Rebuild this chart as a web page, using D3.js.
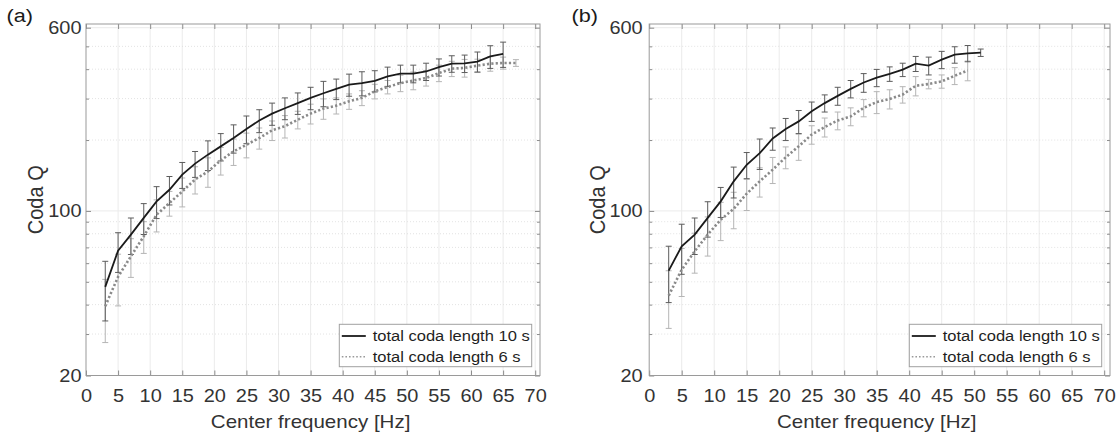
<!DOCTYPE html>
<html><head><meta charset="utf-8">
<script src="https://cdn.jsdelivr.net/npm/d3@7"></script>
<style>
body{margin:0;background:#fff;}
svg{display:block;font-family:"Liberation Sans",Arial,Helvetica,sans-serif;}
</style>
</head><body>
<svg id="chart" width="1119" height="436"></svg>
<script>
// ---------------- data ----------------
const xTickValues = [0,5,10,15,20,25,30,35,40,45,50,55,60,65,70];
const yTickValues = [20,100,600];
const yMinorValues = [30,40,50,60,70,80,90,200,300,400,500];
const seriesNames = ["total coda length 10 s","total coda length 6 s"];

// panel (a)
const freqA10 = [3,5,7,9,11,13,15,17,19,21,23,25,27,29,31,33,35,37,39,41,43,45,47,49,51,53,55,57,59,61,63,65];
const qA10    = [47.6,67.8,79.3,93.4,109.8,123,142.6,158.8,173.4,188,204,223,242,259,273,287,302,316,330,344,349,357,373,383,383,391,408,422,423,431,453,464];
const errA10  = [13.5,13,14,14,17,17,18,20,25,25,28,30,27,28,29,30,33,39,33,37,41,37,35,33,33,33,34,34,36,42,50,57];
const freqA6  = [3,5,7,9,11,13,15,17,19,21,23,25,27,29,31,33,35,37,39,41,43,45,47,49,51,53,55,57,59,61,63,65,67];
const qA6     = [39.4,52.5,64.2,78,96.4,108,121,136,147,164,179,191,204,220,229,244,259,272,280,292,302,322,336,349,358,367,385,402,405,414,422,425,425];
const errA6   = [11.8,13,12,12,15,13,17,18,21,22,23,23,21,21,25,21,25,27,22,22,22,23,22,28,31,28,31,30,35,27,30,25,14];

// panel (b)
const freqB10 = [3,5,7,9,11,13,15,17,19,21,23,25,27,29,31,33,35,37,39,41,43,45,47,49,51];
const qB10    = [55.8,70.8,79.3,93.4,109.8,133.5,157,176,203,223,240,265,287,308,330,351,368,382,398,422,414,439,461,467,470];
const errB10  = [15,17,14,16,16,20,20,26,22,24,27,25,24,27,28,32,31,27,26,31,36,37,37,37,17];
const freqB6  = [3,5,7,9,11,13,15,17,19,21,23,25,27,29,31,33,35,37,39,41,43,45,47,49];
const qB6     = [43.7,56.3,67.4,79.3,91.8,102,118.4,133.5,149.7,169,188,211,227,242,252,274,290,299,312,340,346,355,375,395];
const errB6   = [12,13,13,15,17,18,18,19,19,18,24,19,21,21,22,23,31,28,25,32,16,23,31,38];

// ---------------- drawing ----------------
const SX = 1.14;            // horizontal text stretch of the original figure
const TXT = "#333333";
const svg = d3.select("#chart");

function zip(f, q, e){ return f.map((v,i)=>({f:v,q:q[i],e:e[i]})); }

function panel(cfg){
  const g = svg.append("g");
  const x = d3.scaleLinear().domain([0,70]).range([cfg.l, cfg.x70]);
  const y = d3.scaleLog().domain([20,600]).range([cfg.b, cfg.y600]);
  const T = cfg.t, B = cfg.b, L = cfg.l, R = cfg.r;

  // grid
  const grid = g.append("g");
  grid.selectAll(".gx").data(xTickValues.slice(1)).join("line")
    .attr("x1",d=>x(d)).attr("x2",d=>x(d)).attr("y1",T).attr("y2",B)
    .attr("stroke","#ebebeb").attr("stroke-width",1);
  grid.selectAll(".gym").data(yMinorValues).join("line")
    .attr("x1",L).attr("x2",R).attr("y1",d=>y(d)).attr("y2",d=>y(d))
    .attr("stroke","#dcdcdc").attr("stroke-width",0.8).attr("stroke-dasharray","1,2");
  grid.selectAll(".gyM").data(yTickValues.slice(1)).join("line")
    .attr("x1",L).attr("x2",R).attr("y1",d=>y(d)).attr("y2",d=>y(d))
    .attr("stroke","#ebebeb").attr("stroke-width",1);

  // error bars
  function errbars(data, color){
    const eg = g.append("g").attr("stroke",color).attr("stroke-width",1).attr("fill","none");
    data.forEach(d=>{
      const x0 = x(d.f), y1 = y(d.q + d.e), y2 = y(Math.max(d.q - d.e, 1));
      eg.append("line").attr("x1",x0).attr("x2",x0).attr("y1",y1).attr("y2",y2);
      eg.append("line").attr("x1",x0-3).attr("x2",x0+3).attr("y1",y1).attr("y2",y1);
      eg.append("line").attr("x1",x0-3).attr("x2",x0+3).attr("y1",y2).attr("y2",y2);
    });
  }
  const d6 = zip(cfg.f6, cfg.q6, cfg.e6);
  const d10 = zip(cfg.f10, cfg.q10, cfg.e10);
  errbars(d6, "#b5b5b5");
  errbars(d10, "#5c5c5c");

  const line = d3.line().x(d=>x(d.f)).y(d=>y(d.q));
  g.append("path").datum(d6).attr("d",line).attr("fill","none")
    .attr("stroke","#8a8a8a").attr("stroke-width",2.6).attr("stroke-dasharray","2.2,2.2");
  g.append("path").datum(d10).attr("d",line).attr("fill","none")
    .attr("stroke","#1a1a1a").attr("stroke-width",1.8);

  // axes (inward ticks, all four sides)
  const tickCol = "#8c8c8c";
  const fmtAxis = sel => { sel.select(".domain").remove(); sel.selectAll(".tick line").attr("stroke",tickCol); };

  const ax = g.append("g").attr("transform",`translate(0,${B})`)
    .call(d3.axisBottom(x).tickValues(xTickValues).tickSizeInner(-5).tickSizeOuter(0).tickPadding(14.5))
    .call(fmtAxis);
  ax.selectAll("text").attr("font-size",17.5).attr("fill",TXT).attr("font-family",null)
    .attr("transform",`scale(${SX},1)`);
  g.append("g").attr("transform",`translate(0,${T})`)
    .call(d3.axisTop(x).tickValues(xTickValues).tickFormat("").tickSizeInner(-5).tickSizeOuter(0))
    .call(fmtAxis);

  const ay = g.append("g").attr("transform",`translate(${L},0)`)
    .call(d3.axisLeft(y).tickValues(yTickValues).tickFormat(d3.format("d")).tickSizeInner(-5).tickSizeOuter(0).tickPadding(cfg.ypad/SX))
    .call(fmtAxis);
  ay.selectAll("text").attr("font-size",17.5).attr("fill",TXT).attr("font-family",null)
    .attr("transform",`scale(${SX},1)`);
  g.append("g").attr("transform",`translate(${L},0)`)
    .call(d3.axisLeft(y).tickValues(yMinorValues).tickFormat("").tickSizeInner(-3).tickSizeOuter(0))
    .call(fmtAxis);
  g.append("g").attr("transform",`translate(${R},0)`)
    .call(d3.axisRight(y).tickValues(yTickValues).tickFormat("").tickSizeInner(-5).tickSizeOuter(0))
    .call(fmtAxis);
  g.append("g").attr("transform",`translate(${R},0)`)
    .call(d3.axisRight(y).tickValues(yMinorValues).tickFormat("").tickSizeInner(-3).tickSizeOuter(0))
    .call(fmtAxis);

  // box
  g.append("rect").attr("x",L).attr("y",T).attr("width",R-L).attr("height",B-T)
    .attr("fill","none").attr("stroke","#9a9a9a").attr("stroke-width",1);

  // axis labels
  g.append("text").attr("transform",`translate(${x(35)},428) scale(${SX},1)`)
    .attr("text-anchor","middle").attr("font-size",18).attr("fill",TXT)
    .text("Center frequency [Hz]");
  g.append("text").attr("transform",`translate(${cfg.ylabX},${(T+B)/2}) scale(${SX},1) rotate(-90)`)
    .attr("text-anchor","middle").attr("dy","0.35em").attr("font-size",20).attr("fill",TXT)
    .text("Coda Q");
  g.append("text").attr("transform",`translate(${cfg.tagX},22) scale(${SX},1)`)
    .attr("font-size",19).attr("fill","#1a1a1a").text(cfg.tag);

  // legend
  const lw = 192.4, lh = 42.4, lx = R - 8.3 - lw, ly = B - 51.2;
  const lg = g.append("g");
  lg.append("rect").attr("x",lx).attr("y",ly).attr("width",lw).attr("height",lh)
    .attr("fill","#fff").attr("stroke","#a0a0a0").attr("stroke-width",1);
  const rows = [
    {name:seriesNames[0], color:"#1a1a1a", w:1.8, dash:null},
    {name:seriesNames[1], color:"#9a9a9a", w:1.6, dash:"1.6,2"}
  ];
  rows.forEach((r,i)=>{
    const cy = ly + 11.7 + i*20.7;
    lg.append("line").attr("x1",lx+2.5).attr("x2",lx+26.5).attr("y1",cy).attr("y2",cy)
      .attr("stroke",r.color).attr("stroke-width",r.w).attr("stroke-dasharray",r.dash);
    lg.append("text").attr("transform",`translate(${lx+33.4},${cy}) scale(${SX},1)`)
      .attr("dy","0.35em").attr("font-size",14.5).attr("fill","#1f1f1f").text(r.name);
  });
}

panel({l:86, r:540, x70:535.2, t:24, b:375.5, y600:27.7, ypad:4.5, ylabX:35, tagX:6.5, tag:"(a)",
       f10:freqA10, q10:qA10, e10:errA10, f6:freqA6, q6:qA6, e6:errA6});
panel({l:649.2, r:1110, x70:1104.2, t:24, b:375.5, y600:27.7, ypad:6.5, ylabX:597.5, tagX:571.5, tag:"(b)",
       f10:freqB10, q10:qB10, e10:errB10, f6:freqB6, q6:qB6, e6:errB6});
</script>
</body></html>
